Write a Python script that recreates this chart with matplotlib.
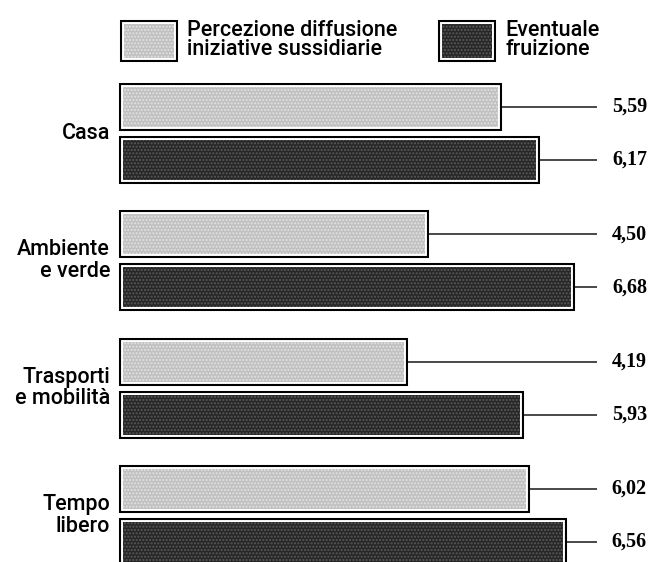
import matplotlib.pyplot as plt
import matplotlib.patheffects as pe
from matplotlib.patches import Rectangle

categories = ['Casa', 'Ambiente\ne verde', 'Trasporti\ne mobilità', 'Tempo\nlibero']
percezione = [5.59, 4.50, 4.19, 6.02]
fruizione = [6.17, 6.68, 5.93, 6.56]
series_names = ['Percezione diffusione\niniziative sussidiarie', 'Eventuale\nfruizione']

light = '#c0c0c0'
dark = '#272727'

W, H = 649, 562
fig = plt.figure(figsize=(W / 100, H / 100), dpi=100)
ax = fig.add_axes([0, 0, 1, 1])
ax.axis('off')

px_per_unit = 67.0
x0_px = 123
ax.set_xlim(-x0_px / px_per_unit, (W - x0_px) / px_per_unit)
grp_px = 127.3
top_px = 133.5
ax.set_ylim((H - top_px) / grp_px, -top_px / grp_px)

# outline: black frame, white gap, textured fill
frame = [pe.Stroke(linewidth=5.8, foreground='black'),
         pe.Stroke(linewidth=2.8, foreground='white'),
         pe.Normal()]

off = 26.5 / grp_px
h = 40 / grp_px
gap = 4 / px_per_unit
line_end = (597 - x0_px) / px_per_unit
lab_x = (647 - x0_px) / px_per_unit
cat_x = (110 - x0_px) / px_per_unit

for series, col, hc, sign in [(percezione, light, '#e2e2e2', -1), (fruizione, dark, '#5a5a5a', 1)]:
    ys = [i + sign * off for i in range(len(categories))]
    bars = ax.barh(ys, series, height=h, color=col, edgecolor=hc, linewidth=0, hatch='.....')
    for b in bars:
        b.set_path_effects(frame)
    for y, v in zip(ys, series):
        ax.plot([v + gap, line_end], [y, y], color='#3a3a3a', lw=1.3, solid_capstyle='butt')
        ax.text(lab_x, y, f'{v:.2f}'.replace('.', ','), ha='right', va='center',
                fontsize=14.5, fontweight='bold', family='Liberation Serif')

for i, c in enumerate(categories):
    ax.text(cat_x, i, c, ha='right', va='center', fontsize=15.5, family='Roboto',
            fontweight='medium', linespacing=1.05)

# legend
for (x, col, hc), name in zip([(124, light, '#e2e2e2'), (442, dark, '#5a5a5a')], series_names):
    r = Rectangle((x / W, 1 - 58 / H), 50 / W, 34 / H, transform=fig.transFigure,
                  facecolor=col, edgecolor=hc, linewidth=0, hatch='.....')
    r.set_path_effects(frame)
    fig.patches.append(r)
    fig.text((x + 63) / W, 1 - 40 / H, name, ha='left', va='center', fontsize=15.5,
             family='Roboto', fontweight='medium', linespacing=0.92)

fig.savefig('out.png', dpi=100)
